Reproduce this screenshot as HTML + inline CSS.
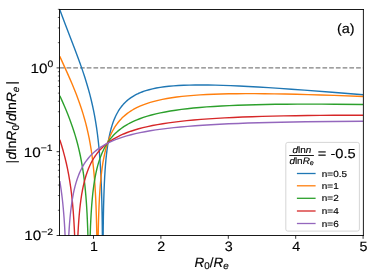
<!DOCTYPE html>
<html><head><meta charset="utf-8"><title>figure</title>
<style>
html,body{margin:0;padding:0;background:#fff;}
svg{display:block;will-change:transform;}
text{font-family:"Liberation Sans",sans-serif;fill:#000;text-rendering:geometricPrecision;stroke:#000;stroke-width:0.15px;}
</style></head><body>
<svg width="374" height="276" viewBox="0 0 374 276">
<rect width="374" height="276" fill="#fff"/>
<defs><clipPath id="ax"><rect x="59.8" y="9.4" width="303.3" height="226.1"/></clipPath></defs>
<g clip-path="url(#ax)" fill="none" stroke-width="1.4" stroke-linejoin="round" stroke-linecap="butt">
<path d="M59.8,67.9 H363.1" stroke="#808080" stroke-width="1.4" stroke-dasharray="4.7 2.034"/>
<path d="M59.80,9.68 L62.23,16.35 L64.86,23.37 L74.37,48.08 L78.01,57.75 L79.83,62.74 L81.65,67.89 L83.27,72.63 L84.89,77.57 L86.71,83.43 L88.33,88.98 L89.75,94.18 L91.16,99.78 L92.38,104.98 L93.59,110.66 L94.61,115.89 L95.61,121.62 L96.59,127.84 L97.43,133.98 L98.24,140.71 L98.85,146.51 L99.46,153.19 L100.06,161.13 L100.49,167.77 L100.94,176.26 L101.30,184.68 L101.59,193.04 L101.82,201.34 L102.05,211.67 L102.22,221.95 L102.37,234.25 L102.49,248.46 L102.59,265.50 L102.91,265.50 L102.92,265.12 L103.10,237.94 L103.23,226.84 L103.38,216.83 L103.58,206.85 L103.79,198.91 L104.05,191.01 L104.37,183.16 L104.66,177.31 L105.01,171.51 L105.42,165.75 L105.93,159.80 L106.48,154.43 L106.94,150.55 L107.68,145.22 L108.36,141.06 L109.17,136.78 L110.04,132.83 L110.99,129.06 L112.00,125.60 L113.01,122.56 L114.23,119.37 L115.47,116.52 L116.20,115.00 L116.86,113.72 L118.27,111.22 L119.08,109.92 L119.89,108.71 L120.70,107.58 L121.51,106.51 L122.32,105.51 L123.33,104.34 L124.34,103.24 L125.36,102.23 L126.37,101.28 L127.38,100.38 L128.39,99.55 L129.61,98.61 L130.62,97.88 L131.83,97.06 L133.05,96.30 L134.26,95.58 L135.47,94.91 L136.89,94.19 L138.31,93.51 L139.72,92.89 L142.55,91.76 L144.17,91.19 L145.79,90.66 L149.03,89.72 L152.47,88.86 L156.31,88.06 L160.16,87.39 L164.41,86.79 L168.86,86.28 L173.51,85.86 L178.37,85.53 L183.63,85.27 L189.29,85.09 L195.16,84.99 L201.43,84.97 L208.11,85.03 L215.19,85.17 L222.68,85.38 L230.57,85.67 L239.07,86.04 L248.17,86.50 L257.89,87.04 L268.41,87.67 L279.54,88.40 L291.47,89.22 L304.22,90.13 L332.14,92.26 L363.10,94.77" stroke="#1f77b4"/>
<path d="M59.80,56.37 L67.49,73.37 L69.92,78.88 L72.14,84.07 L74.37,89.46 L76.39,94.57 L78.21,99.40 L79.83,103.92 L81.45,108.72 L83.07,113.86 L84.48,118.70 L85.70,123.17 L86.91,128.02 L88.13,133.33 L89.14,138.21 L90.15,143.62 L91.16,149.71 L91.97,155.24 L92.58,159.89 L93.32,166.32 L93.96,172.83 L94.40,177.96 L94.96,185.65 L95.35,191.99 L95.68,198.28 L96.04,206.63 L96.33,214.93 L96.56,223.19 L96.75,231.42 L96.93,241.67 L97.20,265.50 L97.78,265.50 L97.94,250.42 L98.08,240.37 L98.27,230.35 L98.47,222.36 L98.71,214.40 L99.02,206.48 L99.40,198.60 L99.75,192.73 L100.16,186.90 L100.65,181.11 L101.08,176.74 L101.68,171.41 L102.29,166.86 L103.00,162.23 L103.71,158.28 L104.52,154.30 L105.53,149.98 L106.54,146.25 L107.67,142.60 L108.77,139.49 L109.98,136.43 L110.59,135.04 L111.40,133.29 L112.81,130.52 L113.62,129.07 L114.43,127.71 L116.05,125.23 L116.86,124.09 L117.87,122.75 L119.69,120.54 L120.70,119.42 L121.71,118.36 L122.73,117.36 L123.94,116.24 L124.95,115.35 L126.17,114.35 L127.38,113.40 L128.59,112.51 L131.02,110.88 L132.44,110.00 L133.85,109.18 L136.69,107.68 L138.31,106.90 L139.92,106.16 L143.16,104.82 L146.60,103.57 L150.24,102.40 L154.09,101.31 L158.13,100.31 L162.38,99.39 L167.04,98.51 L171.69,97.75 L176.75,97.04 L182.01,96.42 L187.68,95.84 L193.75,95.33 L200.02,94.90 L206.70,94.53 L213.57,94.23 L220.86,93.99 L228.75,93.80 L236.84,93.69 L245.54,93.63 L254.65,93.64 L264.16,93.70 L274.27,93.83 L285.00,94.02 L296.33,94.27 L308.27,94.58 L320.81,94.95 L334.17,95.40 L363.10,96.48" stroke="#ff7f0e"/>
<path d="M59.80,95.73 L62.23,101.14 L64.25,105.78 L66.07,110.10 L67.89,114.59 L69.51,118.76 L71.13,123.14 L72.55,127.18 L73.96,131.47 L75.18,135.38 L76.39,139.55 L77.61,144.05 L78.62,148.09 L79.63,152.47 L80.44,156.26 L81.33,160.80 L82.14,165.37 L82.87,169.87 L83.68,175.48 L84.28,180.23 L84.86,185.27 L85.30,189.59 L85.87,196.01 L86.31,201.64 L86.64,206.60 L87.01,212.90 L87.32,219.12 L87.81,231.61 L88.20,246.03 L88.56,265.50 L89.51,265.50 L89.53,265.03 L89.69,254.98 L89.91,244.96 L90.15,236.19 L90.48,227.03 L90.84,219.11 L91.17,213.21 L91.70,205.39 L92.19,199.57 L92.76,193.79 L93.20,189.97 L93.79,185.48 L94.40,181.43 L95.19,176.82 L95.92,173.14 L96.73,169.50 L97.64,165.91 L98.66,162.36 L99.79,158.87 L101.06,155.43 L102.29,152.48 L103.71,149.46 L105.12,146.77 L105.93,145.36 L106.74,144.03 L107.55,142.77 L108.56,141.29 L109.37,140.17 L110.38,138.85 L111.40,137.61 L112.41,136.44 L113.42,135.33 L114.43,134.28 L115.44,133.29 L116.66,132.16 L117.87,131.09 L119.08,130.09 L121.51,128.23 L122.73,127.38 L124.14,126.43 L126.77,124.81 L128.19,124.00 L129.81,123.13 L132.84,121.63 L134.46,120.89 L136.28,120.10 L139.72,118.74 L143.36,117.45 L147.41,116.17 L151.46,115.02 L155.91,113.90 L160.36,112.91 L165.22,111.94 L170.27,111.05 L175.74,110.20 L181.40,109.42 L187.27,108.71 L193.34,108.07 L199.82,107.47 L206.70,106.92 L213.78,106.43 L221.47,105.98 L229.36,105.59 L237.65,105.24 L246.56,104.94 L255.66,104.69 L265.37,104.48 L275.49,104.32 L286.21,104.21 L297.54,104.14 L309.28,104.12 L321.62,104.14 L334.77,104.21 L363.10,104.48" stroke="#2ca02c"/>
<path d="M59.80,139.74 L61.62,145.51 L63.24,151.06 L64.84,157.08 L66.27,163.02 L67.49,168.63 L68.70,174.92 L69.71,180.87 L70.73,187.69 L71.29,192.00 L71.74,195.76 L72.49,202.92 L73.24,211.51 L73.83,219.99 L74.37,229.57 L74.85,240.91 L75.24,253.32 L75.52,265.50 L76.92,265.50 L77.20,254.54 L77.40,247.82 L77.67,240.57 L78.01,233.08 L78.36,226.78 L78.75,220.92 L79.22,214.93 L79.75,209.33 L80.24,204.93 L80.89,199.82 L81.65,194.72 L82.39,190.51 L83.27,186.11 L84.08,182.59 L85.09,178.71 L86.10,175.31 L87.32,171.71 L88.53,168.55 L89.75,165.73 L91.16,162.79 L92.58,160.17 L94.20,157.50 L95.01,156.27 L96.02,154.83 L97.84,152.44 L98.85,151.23 L99.86,150.08 L101.89,147.96 L102.90,146.98 L104.11,145.87 L106.34,143.99 L108.77,142.14 L111.40,140.34 L112.81,139.45 L114.23,138.60 L117.06,137.03 L120.30,135.42 L123.54,133.98 L127.18,132.52 L130.82,131.21 L134.66,129.96 L138.71,128.79 L142.96,127.67 L147.61,126.58 L152.47,125.56 L157.53,124.61 L162.79,123.72 L168.45,122.87 L174.32,122.08 L180.39,121.36 L186.87,120.67 L193.75,120.02 L201.03,119.41 L208.52,118.86 L216.41,118.35 L224.70,117.88 L233.40,117.45 L242.51,117.06 L252.02,116.71 L262.13,116.40 L272.66,116.13 L283.78,115.89 L295.52,115.68 L307.66,115.51 L320.41,115.38 L333.96,115.28 L363.10,115.19" stroke="#d62728"/>
<path d="M59.80,181.06 L60.41,184.81 L61.04,189.08 L61.66,193.61 L62.23,198.27 L62.70,202.52 L63.24,207.97 L63.64,212.57 L64.05,217.71 L64.45,223.67 L64.73,228.35 L65.26,239.08 L65.71,251.36 L66.09,265.50 L67.66,265.50 L67.69,265.32 L67.91,256.92 L68.17,248.99 L68.49,241.09 L68.78,235.20 L69.13,229.35 L69.54,223.53 L70.03,217.76 L70.60,212.05 L71.13,207.58 L71.80,202.67 L72.55,198.02 L73.36,193.66 L74.16,189.91 L75.02,186.36 L75.99,182.84 L77.05,179.43 L78.21,176.15 L79.43,173.13 L80.03,171.74 L80.84,170.01 L82.26,167.24 L83.07,165.80 L83.88,164.45 L85.50,161.96 L86.31,160.81 L87.32,159.47 L89.14,157.24 L90.15,156.10 L91.16,155.03 L93.19,153.05 L95.41,151.09 L96.62,150.10 L97.84,149.17 L100.27,147.45 L102.90,145.77 L105.73,144.15 L108.77,142.59 L112.00,141.09 L115.44,139.66 L119.08,138.31 L122.73,137.09 L126.77,135.88 L131.02,134.73 L135.47,133.65 L140.13,132.64 L144.98,131.70 L150.24,130.78 L155.71,129.92 L161.57,129.10 L167.64,128.34 L173.92,127.64 L180.59,126.97 L187.68,126.35 L195.16,125.76 L202.85,125.22 L210.94,124.72 L219.64,124.25 L228.55,123.82 L238.06,123.43 L247.97,123.07 L258.49,122.74 L269.42,122.45 L280.95,122.19 L293.09,121.97 L305.64,121.77 L332.95,121.47 L363.10,121.29" stroke="#9467bd"/>
</g>
<path d="M93.50,235.5 v3.3 M160.90,235.5 v3.3 M228.30,235.5 v3.3 M295.70,235.5 v3.3 M363.10,235.5 v3.3" stroke="#000" stroke-width="0.8" fill="none"/>
<path d="M59.8,235.50 h-3.2 M59.8,151.70 h-3.2 M59.8,67.90 h-3.2" stroke="#000" stroke-width="0.8" fill="none"/>
<path d="M59.8,210.27 h-1.95 M59.8,195.52 h-1.95 M59.8,185.05 h-1.95 M59.8,176.93 h-1.95 M59.8,170.29 h-1.95 M59.8,164.68 h-1.95 M59.8,159.82 h-1.95 M59.8,155.53 h-1.95 M59.8,126.47 h-1.95 M59.8,111.72 h-1.95 M59.8,101.25 h-1.95 M59.8,93.13 h-1.95 M59.8,86.49 h-1.95 M59.8,80.88 h-1.95 M59.8,76.02 h-1.95 M59.8,71.73 h-1.95 M59.8,42.67 h-1.95 M59.8,27.92 h-1.95 M59.8,17.45 h-1.95 M59.8,9.33 h-1.95" stroke="#000" stroke-width="0.6" fill="none"/>
<path d="M59.5,9.05 V235.95 M363.4,9.05 V235.95 M59.05,9.5 H363.85 M59.05,235.5 H363.85" fill="none" stroke="#000" stroke-width="0.9"/>
<text transform="translate(93.9,251.3) scale(1.06,1)" font-size="13.5" text-anchor="middle">1</text>
<text transform="translate(161.3,251.3) scale(1.06,1)" font-size="13.5" text-anchor="middle">2</text>
<text transform="translate(228.7,251.3) scale(1.06,1)" font-size="13.5" text-anchor="middle">3</text>
<text transform="translate(296.1,251.3) scale(1.06,1)" font-size="13.5" text-anchor="middle">4</text>
<text transform="translate(363.5,251.3) scale(1.06,1)" font-size="13.5" text-anchor="middle">5</text>
<text transform="translate(53.2,72.7) scale(1.13,1)" font-size="13.5" text-anchor="end">10<tspan font-size="9.2" dy="-5.6">0</tspan></text>
<text transform="translate(52.6,156.5) scale(1.13,1)" font-size="13.5" text-anchor="end">10<tspan font-size="9.2" dy="-5.6">−1</tspan></text>
<text transform="translate(53.0,240.3) scale(1.13,1)" font-size="13.5" text-anchor="end">10<tspan font-size="9.2" dy="-5.6">−2</tspan></text>
<text transform="translate(211.6,266.6) scale(1.0,1)" font-size="13.5" text-anchor="middle"><tspan font-style="italic">R</tspan><tspan font-size="9.8" dy="2.8">0</tspan><tspan dy="-2.8">/</tspan><tspan font-style="italic">R</tspan><tspan font-size="9.8" dy="2.8" font-style="italic">e</tspan></text>
<text transform="translate(15.8,123.0) rotate(-90) scale(1.04,1)" font-size="13.5" text-anchor="middle"><tspan font-style="italic">d</tspan>ln<tspan font-style="italic">R</tspan><tspan font-size="9.8" dy="2.8">0</tspan><tspan dy="-2.8">/</tspan><tspan font-style="italic">d</tspan>ln<tspan font-style="italic">R</tspan><tspan font-size="9.8" dy="2.8" font-style="italic">e</tspan></text>
<path d="M6.1,82.9 H18.9 M6.1,161.8 H18.9" stroke="#000" stroke-width="1.1" fill="none"/>
<text transform="translate(345.8,33.4) scale(1.07,1)" font-size="13.5" text-anchor="middle">(a)</text>
<rect x="285.8" y="142.4" width="73.6" height="88.7" rx="2" ry="2" fill="#fff" fill-opacity="0.8" stroke="#ccc" stroke-width="0.8"/>
<text transform="translate(301.9,153.4) scale(1.06,1)" font-size="9.4" text-anchor="middle" stroke="none"><tspan font-style="italic">d</tspan>ln<tspan font-style="italic">n</tspan></text>
<path d="M289.3,155.5 H313.9" stroke="#000" stroke-width="0.9"/>
<text transform="translate(301.6,163.6) scale(1.06,1)" font-size="9.4" text-anchor="middle" stroke="none"><tspan font-style="italic">d</tspan>ln<tspan font-style="italic">R</tspan><tspan font-size="6.8" dy="1.6" font-style="italic">e</tspan></text>
<text transform="translate(317.8,158.4) scale(1.12,1)" font-size="13.1" text-anchor="start">= -0.5</text>
<path d="M296.9,173.5 H315.6" stroke="#1f77b4" stroke-width="1.3"/>
<text transform="translate(321.8,176.6) scale(1.13,1)" font-size="8.8" text-anchor="start" stroke="none">n=0.5</text>
<path d="M296.9,185.8 H315.6" stroke="#ff7f0e" stroke-width="1.3"/>
<text transform="translate(321.8,188.9) scale(1.13,1)" font-size="8.8" text-anchor="start" stroke="none">n=1</text>
<path d="M296.9,198.3 H315.6" stroke="#2ca02c" stroke-width="1.3"/>
<text transform="translate(321.8,201.4) scale(1.13,1)" font-size="8.8" text-anchor="start" stroke="none">n=2</text>
<path d="M296.9,211.0 H315.6" stroke="#d62728" stroke-width="1.3"/>
<text transform="translate(321.8,214.1) scale(1.13,1)" font-size="8.8" text-anchor="start" stroke="none">n=4</text>
<path d="M296.9,223.5 H315.6" stroke="#9467bd" stroke-width="1.3"/>
<text transform="translate(321.8,226.6) scale(1.13,1)" font-size="8.8" text-anchor="start" stroke="none">n=6</text>
</svg>
</body></html>
